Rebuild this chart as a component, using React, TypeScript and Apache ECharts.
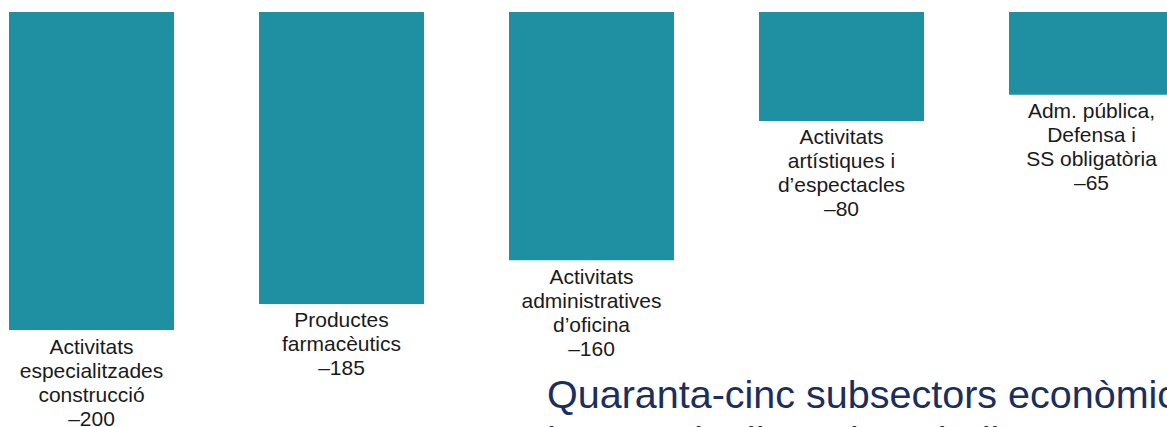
import React, { useEffect, useRef } from "react";
import * as echarts from "echarts";

const categories: string[] = [
  "Activitats\nespecialitzades\nconstrucció",
  "Productes\nfarmacèutics",
  "Activitats\nadministratives\nd’oficina",
  "Activitats\nartístiques i\nd’espectacles",
  "Adm. pública,\nDefensa i\nSS obligatòria",
];
const values: number[] = [-200, -185, -160, -80, -65];
const titleLines: string[] = [
  "Quaranta-cinc subsectors econòmics",
  "han perdut llocs de treball",
];

export default function App() {
  const ref = useRef<HTMLDivElement>(null);
  useEffect(() => {
    if (!ref.current) return;
    const chart = echarts.init(ref.current, undefined, { renderer: "svg" });
    chart.setOption({
      animation: false,
      grid: {
        left: -33.5,
        top: 12,
        width: 1250,
        height: 335.5,
        outerBoundsMode: "none",
        containLabel: false,
      },
      xAxis: {
        type: "category",
        data: categories,
        show: false,
        boundaryGap: true,
      },
      yAxis: { type: "value", min: -210, max: -17.5, show: false },
      series: [
        {
          type: "bar",
          data: values,
          barWidth: 165,
          clip: true,
          itemStyle: { color: "#1f8fa2" },
          label: {
            show: true,
            position: "bottom",
            distance: 4,
            fontFamily: "'Liberation Sans', Arial, Helvetica, sans-serif",
            fontSize: 21,
            lineHeight: 24,
            color: "#1a1a1a",
            align: "center",
            formatter: (p: any) =>
              categories[p.dataIndex] + "\n" + String(p.value).replace("-", "–"),
          },
        },
      ],
      graphic: [
        {
          type: "text",
          left: 547,
          top: 371,
          style: {
            text: titleLines.join("\n"),
            fontFamily: "'Liberation Sans', Arial, Helvetica, sans-serif",
            fontSize: 39.5,
            lineHeight: 46,
            fill: "#1b2e5c",
          },
        },
      ],
    });
    return () => chart.dispose();
  }, []);
  return (
    <div
      ref={ref}
      style={{ position: "absolute", left: 0, top: 0, width: 1167, height: 427 }}
    />
  );
}
